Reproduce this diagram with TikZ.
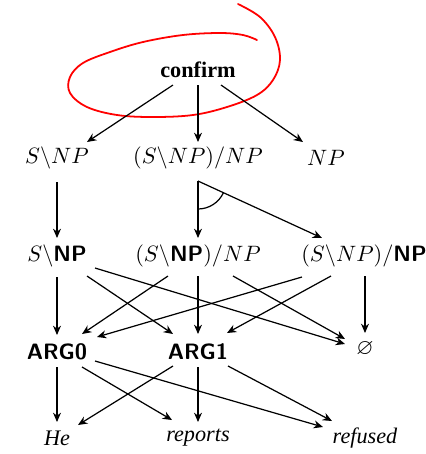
\documentclass[tikz,border=0pt]{standalone}
\usepackage{amssymb}
\usepackage{fontspec}
\newfontfamily\tnr{Liberation Serif}
\usetikzlibrary{arrows.meta,calc}
\begin{document}
\begin{tikzpicture}[x=0.45pt,y=-0.45pt,
  lbl/.style={inner sep=0pt,anchor=center},
  arr/.style={-{Stealth[length=4.2pt,width=3.6pt]},line width=0.55pt},
  bsf/.style={font=\sffamily\bfseries}]
\useasboundingbox (0,0) rectangle (426,454);
% red loop
\draw[red,line width=0.8pt,line cap=round] plot[smooth,tension=0.6] coordinates{
 (238,4) (260,17) (275,37) (280,60) (273,80) (257,95) (227,107) (193,115) (153,117)
 (117,115) (87,107) (70,93) (70,77) (83,63) (110,52) (143,42) (183,35) (220,33) (243,35) (257,40)};
% nodes
\node[lbl] (c) at (198,70) {\tnr\bfseries confirm};
\node[lbl] (s1) at (57,158) {$S\backslash NP$};
\node[lbl] (m1) at (198,158) {$(S\backslash NP)/NP$};
\node[lbl] (n1) at (326,158) {$NP$};
\node[lbl] (s2) at (57,256) {$S\backslash\textsf{\bfseries NP}$};
\node[lbl] (m2) at (198,256) {$(S\backslash\textsf{\bfseries NP})/NP$};
\node[lbl] (r2) at (364,256) {$(S\backslash NP)/\textsf{\bfseries NP}$};
\node[lbl,bsf] (a0) at (57,352) {ARG0};
\node[lbl,bsf] (a1) at (198,352) {ARG1};
\node[lbl] (e) at (365,349) {$\varnothing$};
\node[lbl] (he) at (57,438) {\tnr\itshape He};
\node[lbl] (rep) at (198,438) {\tnr\itshape reports};
\node[lbl] (ref) at (365,438) {\tnr\itshape refused};
% confirm -> row 1
\draw[arr] ($(c)+(-25,15)$) -- ($(s1)+(30,-16)$);
\draw[arr] ($(c)+(0,15)$) -- ($(m1)+(0,-16)$);
\draw[arr] ($(c)+(23,15)$) -- ($(n1)+(-23,-16)$);
% row 1 -> row 2
\draw[arr] ($(s1)+(0,24)$) -- ($(s2)+(0,-18)$);
\draw[arr] ($(m1)+(0,23)$) -- ($(m2)+(0,-18)$);
\draw[arr] ($(m1)+(0,23)$) -- ($(r2)+(-42,-18)$);
\draw[line width=0.55pt] ($(m1)+(0,51)$) arc[start angle=-90,end angle=-24.7,radius=12.6pt];
% row 2 -> row 3
\draw[arr] ($(s2)+(0,21)$) -- ($(a0)+(0,-17)$);
\draw[arr] ($(s2)+(30,20)$) -- ($(a1)+(-25,-18)$);
\draw[arr] ($(s2)+(38,12)$) -- ($(e)+(-20,-5)$);
\draw[arr] ($(m2)+(-30,20)$) -- ($(a0)+(25,-18)$);
\draw[arr] ($(m2)+(0,20)$) -- ($(a1)+(0,-18)$);
\draw[arr] ($(m2)+(35,20)$) -- ($(e)+(-20,-10)$);
\draw[arr] ($(r2)+(-62,21)$) -- ($(a0)+(40,-15)$);
\draw[arr] ($(r2)+(-33,20)$) -- ($(a1)+(29,-19)$);
\draw[arr] ($(r2)+(1,20)$) -- ($(e)+(0,-16)$);
% row 3 -> row 4
\draw[arr] ($(a0)+(0,15)$) -- ($(he)+(0,-16)$);
\draw[arr] ($(a0)+(25,15)$) -- ($(rep)+(-26,-18)$);
\draw[arr] ($(a0)+(38,9)$) -- ($(ref)+(-42,-11)$);
\draw[arr] ($(a1)+(-25,14)$) -- ($(he)+(21,-13)$);
\draw[arr] ($(a1)+(0,15)$) -- ($(rep)+(0,-16)$);
\draw[arr] ($(a1)+(30,14)$) -- ($(ref)+(-33,-17)$);
\end{tikzpicture}
\end{document}
